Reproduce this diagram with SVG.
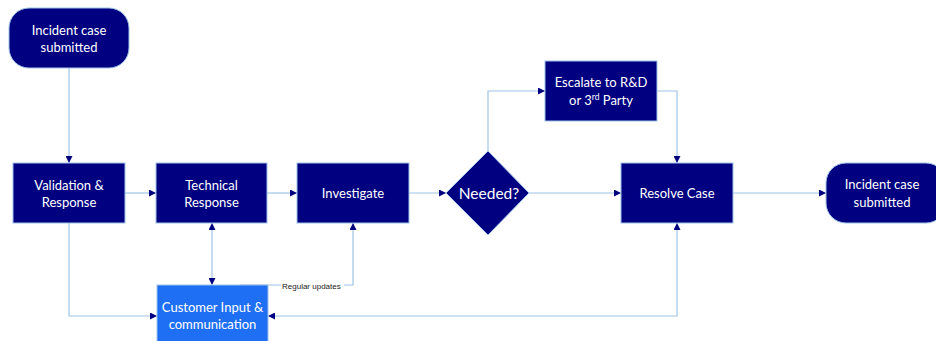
<svg xmlns="http://www.w3.org/2000/svg" width="936" height="341" viewBox="0 0 936 341">
<defs>
<marker id="ah" viewBox="0 0 10 10" refX="10" refY="5" markerWidth="7" markerHeight="7" markerUnits="userSpaceOnUse" orient="auto-start-reverse">
<path d="M0,0 L10,5 L0,10 z" fill="#000080"/>
</marker>
<style>
.n{fill:#000080;stroke:#9DC3E6;stroke-width:1}
.c{fill:#1F6FF5;stroke:#9DC3E6;stroke-width:1}
.t{font-family:Lato,"Open Sans","Liberation Sans",sans-serif;font-size:13px;fill:#FFFFFF;text-anchor:middle}
.e{fill:none;stroke:#9DC3E6;stroke-width:1.2}
.l{font-family:"Liberation Sans",Arial,sans-serif;font-size:8px;fill:#222222}
</style>
</defs>
<rect width="936" height="341" fill="#FFFFFF"/>
<g id="connectors">
<path class="e" d="M69,68 V163" marker-end="url(#ah)"/>
<path class="e" d="M125,193 H156" marker-end="url(#ah)"/>
<path class="e" d="M267,193 H297" marker-end="url(#ah)"/>
<path class="e" d="M409,193 H446" marker-end="url(#ah)"/>
<path class="e" d="M529,193 H621" marker-end="url(#ah)"/>
<path class="e" d="M488,151 V91 H545" marker-end="url(#ah)"/>
<path class="e" d="M657,91 H677 V163" marker-end="url(#ah)"/>
<path class="e" d="M733,193 H826" marker-end="url(#ah)"/>
<path class="e" d="M69,223 V316 H157" marker-end="url(#ah)"/>
<path class="e" d="M212,223 V285" marker-start="url(#ah)" marker-end="url(#ah)"/>
<path class="e" d="M240,285 H353 V223" marker-end="url(#ah)"/>
<path class="e" d="M677,223 V316 H268" marker-start="url(#ah)" marker-end="url(#ah)"/>
<rect x="281" y="281" width="63" height="10" fill="#FFFFFF"/>
<text class="l" x="282" y="289">Regular updates</text>
</g>
<g id="start">
<rect class="n" x="9" y="8" width="120" height="60" rx="20"/>
<text class="t" x="69" y="35">Incident case</text>
<text class="t" x="69" y="52">submitted</text>
</g>
<g id="validation">
<rect class="n" x="13" y="163" width="112" height="60"/>
<text class="t" x="69" y="190">Validation &amp;</text>
<text class="t" x="69" y="207">Response</text>
</g>
<g id="technical">
<rect class="n" x="156" y="163" width="111" height="60"/>
<text class="t" x="211.5" y="190">Technical</text>
<text class="t" x="211.5" y="207">Response</text>
</g>
<g id="investigate">
<rect class="n" x="297" y="163" width="112" height="60"/>
<text class="t" x="353" y="198">Investigate</text>
</g>
<g id="needed">
<polygon class="n" points="488,151 529,193 488,235 446,193"/>
<text class="t" x="489" y="199" style="font-size:15.5px">Needed?</text>
</g>
<g id="escalate">
<rect class="n" x="545" y="61" width="112" height="60"/>
<text class="t" x="601" y="87">Escalate to R&amp;D</text>
<text class="t" x="601" y="105">or 3<tspan dy="-5" style="font-size:8.5px">rd</tspan><tspan dy="5"> Party</tspan></text>
</g>
<g id="resolve">
<rect class="n" x="621" y="163" width="112" height="60"/>
<text class="t" x="677" y="198">Resolve Case</text>
</g>
<g id="end">
<rect class="n" x="826" y="163" width="120" height="60" rx="20"/>
<text class="t" x="882" y="189">Incident case</text>
<text class="t" x="882" y="207">submitted</text>
</g>
<g id="customer">
<rect class="c" x="157" y="285" width="111" height="62"/>
<text class="t" x="212.5" y="312">Customer Input &amp;</text>
<text class="t" x="212.5" y="329">communication</text>
</g>
</svg>
